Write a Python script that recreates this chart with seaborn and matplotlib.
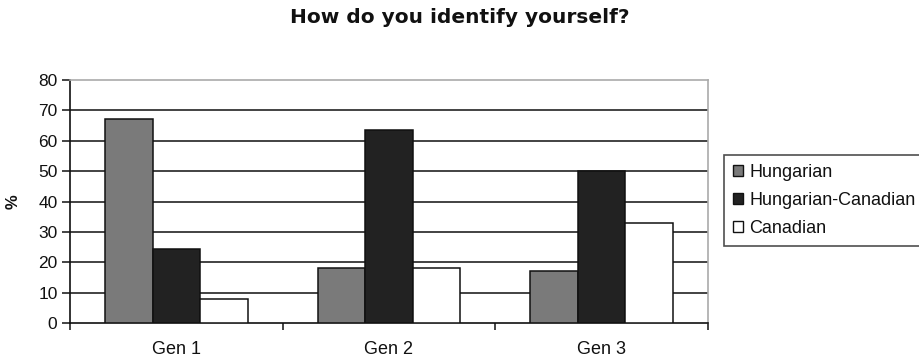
import matplotlib
matplotlib.use("Agg")
import matplotlib.pyplot as plt
import seaborn as sns
import pandas as pd

generations = ["Gen 1", "Gen 2", "Gen 3"]
identities = ["Hungarian", "Hungarian-Canadian", "Canadian"]
hungarian = [67, 18, 17]
hungarian_canadian = [24.5, 63.5, 50]
canadian = [8, 18, 33]
y_ticks = [0, 10, 20, 30, 40, 50, 60, 70, 80]

df = pd.DataFrame({
    "Generation": generations * 3,
    "Identity": [identities[0]] * 3 + [identities[1]] * 3 + [identities[2]] * 3,
    "Percent": hungarian + hungarian_canadian + canadian,
})

sns.set_theme(style="white")
plt.rcParams["font.family"] = ["Liberation Sans", "DejaVu Sans"]

fig = plt.figure(figsize=(9.2, 3.6), dpi=100)
ax = fig.add_axes([70 / 920, 1 - 323 / 360, (708 - 70) / 920, (323 - 80) / 360])

palette = {"Hungarian": "#7a7a7a", "Hungarian-Canadian": "#222222", "Canadian": "#ffffff"}
sns.barplot(data=df, x="Generation", y="Percent", hue="Identity", order=generations,
            hue_order=identities, palette=palette, width=0.67, gap=0,
            edgecolor="#111111", linewidth=1.1, saturation=1, ax=ax, zorder=3)

ax.set_ylim(0, 80)
ax.set_xlim(-0.5, 2.5)
ax.set_yticks(y_ticks)
ax.set_yticklabels([str(t) for t in y_ticks], fontsize=12.5, color="#111111")
ax.set_xticks(range(len(generations)))
ax.set_xticklabels(generations, fontsize=13, color="#111111")
ax.set_xticks([-0.5, 0.5, 1.5, 2.5], minor=True)
ax.tick_params(axis="x", which="major", length=0, pad=13)
ax.tick_params(axis="x", which="minor", length=5, width=1.1, color="#111111", direction="out", bottom=True)
ax.tick_params(axis="y", which="major", length=6, width=1.1, color="#111111", direction="out", left=True, pad=3)

for v in y_ticks[1:-1]:
    ax.axhline(v, color="#222222", lw=1.2, zorder=1)

for side in ["left", "bottom"]:
    ax.spines[side].set_color("#111111")
    ax.spines[side].set_linewidth(1.2)
for side in ["top", "right"]:
    ax.spines[side].set_visible(True)
    ax.spines[side].set_color("#aaaaaa")
    ax.spines[side].set_linewidth(1.2)

ax.set_xlabel("")
ax.set_ylabel("%", fontsize=12, fontweight="bold", color="#111111")
ax.yaxis.set_label_coords((21 - 70) / 638, 0.5)

fig.suptitle("How do you identify yourself?", fontsize=14.5, fontweight="bold",
             family=["DejaVu Sans"], y=1 - 8 / 360, va="top", color="#111111")

handles, labels = ax.get_legend_handles_labels()
ax.get_legend().remove()
leg = fig.legend(handles, labels, loc="upper left", bbox_to_anchor=(724 / 920, 1 - 155 / 360),
                 fontsize=13, frameon=True, fancybox=False, handlelength=0.55, handleheight=0.55,
                 handletextpad=0.35, labelspacing=0.6, borderpad=0.5, borderaxespad=0,
                 labelcolor="#111111")
leg.get_frame().set_edgecolor("#222222")
leg.get_frame().set_linewidth(1.2)
for h in leg.legend_handles:
    h.set_edgecolor("#111111")
    h.set_linewidth(1.0)

fig.savefig("out.png", dpi=100)
